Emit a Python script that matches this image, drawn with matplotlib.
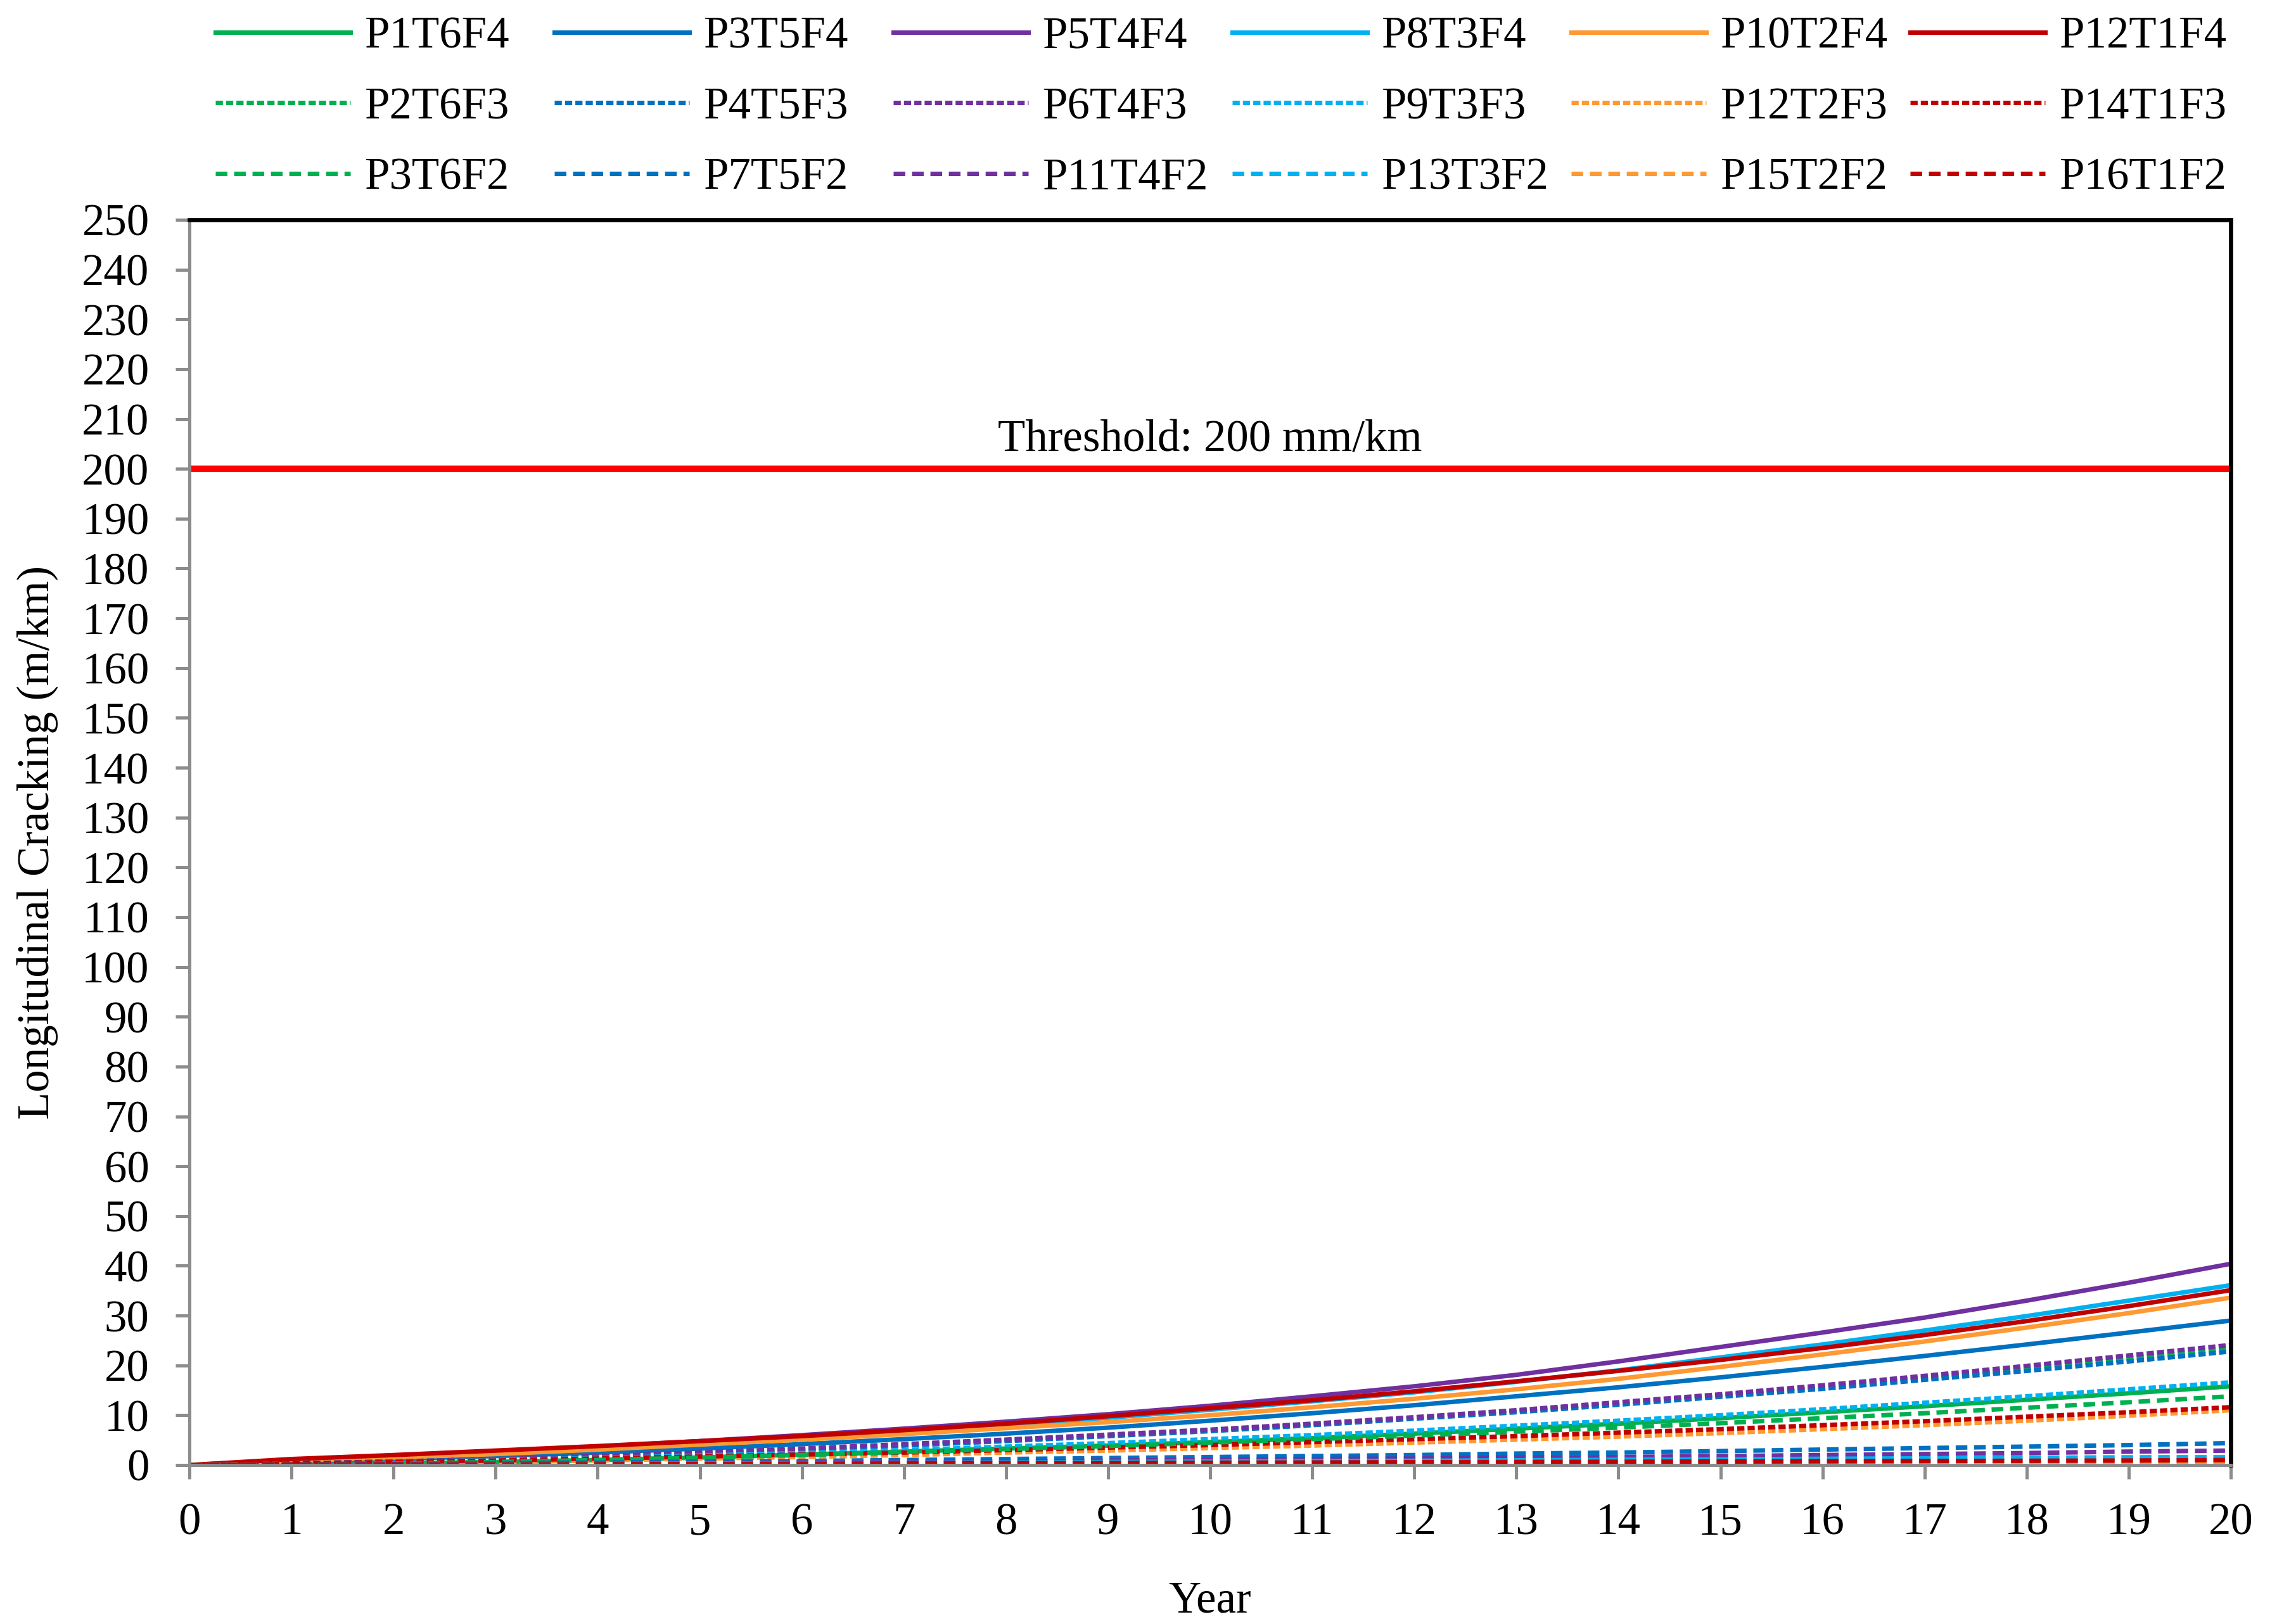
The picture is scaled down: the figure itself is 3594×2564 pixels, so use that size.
import matplotlib
matplotlib.use("Agg")
import matplotlib.pyplot as plt

plt.rcParams["font.family"] = ["Liberation Serif", "DejaVu Serif"]
plt.rcParams["font.size"] = 17

years = list(range(21))

# F4 designs (solid)
p1t6f4 = [0, 0.1, 0.3, 0.6, 1.0, 1.5, 2.1, 2.7, 3.3, 3.9, 4.6, 5.4, 6.3, 7.3, 8.3, 9.4, 10.6, 11.8, 13.1, 14.4, 15.8]
p3t5f4 = [0, 0.6, 1.2, 1.8, 2.5, 3.3, 4.2, 5.2, 6.3, 7.5, 8.9, 10.4, 12.0, 13.8, 15.6, 17.6, 19.7, 21.9, 24.2, 26.6, 29.0]
p5t4f4 = [0, 1.0, 1.8, 2.7, 3.7, 4.8, 6.0, 7.3, 8.7, 10.2, 11.9, 13.8, 15.8, 18.1, 20.8, 23.7, 26.6, 29.6, 33.0, 36.6, 40.4]
p8t3f4 = [0, 0.9, 1.6, 2.4, 3.4, 4.5, 5.6, 6.8, 8.1, 9.5, 11.1, 12.8, 14.6, 16.7, 19.0, 21.6, 24.2, 27.0, 29.9, 33.0, 36.1]
p10t2f4 = [0, 0.8, 1.5, 2.2, 3.1, 4.1, 5.1, 6.2, 7.4, 8.6, 10.0, 11.6, 13.3, 15.2, 17.3, 19.7, 22.2, 24.8, 27.6, 30.5, 33.6]
p12t1f4 = [0, 1.2, 2.0, 2.9, 3.8, 4.8, 5.8, 7.0, 8.3, 9.8, 11.4, 13.0, 14.8, 16.8, 18.9, 21.1, 23.5, 26.1, 28.9, 31.9, 35.1]

# F3 designs (square dot)
p2t6f3 = [0, 0.3, 0.7, 1.2, 1.8, 2.4, 3.2, 4.1, 5.0, 6.0, 7.0, 8.2, 9.5, 10.9, 12.4, 14.0, 15.7, 17.5, 19.4, 21.4, 23.4]
p4t5f3 = [0, 0.3, 0.7, 1.1, 1.7, 2.3, 3.1, 3.9, 4.8, 5.8, 6.8, 8.0, 9.3, 10.6, 12.1, 13.7, 15.3, 17.1, 18.9, 20.8, 22.8]
p6t4f3 = [0, 0.3, 0.7, 1.2, 1.8, 2.5, 3.3, 4.2, 5.1, 6.1, 7.1, 8.3, 9.6, 11.0, 12.6, 14.2, 16.0, 17.9, 19.9, 22.0, 24.1]
p9t3f3 = [0, 0.3, 0.6, 1.0, 1.4, 1.9, 2.4, 3.0, 3.7, 4.4, 5.2, 6.0, 6.9, 7.9, 8.9, 10.0, 11.2, 12.5, 13.8, 15.2, 16.6]
p12t2f3 = [0, 0.2, 0.4, 0.6, 0.9, 1.3, 1.6, 2.0, 2.5, 2.9, 3.4, 3.9, 4.5, 5.1, 5.7, 6.4, 7.2, 8.0, 8.9, 9.9, 11.0]
p14t1f3 = [0, 0.3, 0.6, 0.9, 1.3, 1.7, 2.1, 2.5, 3.0, 3.5, 4.0, 4.6, 5.2, 5.8, 6.5, 7.2, 8.0, 8.8, 9.7, 10.6, 11.6]

# F2 designs (dash)
p3t6f2 = [0, 0.1, 0.3, 0.6, 1.0, 1.5, 2.0, 2.6, 3.2, 3.8, 4.5, 5.2, 5.9, 6.7, 7.5, 8.4, 9.4, 10.4, 11.5, 12.6, 13.8]
p7t5f2 = [0, 0.1, 0.2, 0.4, 0.5, 0.7, 0.8, 1.0, 1.2, 1.4, 1.6, 1.8, 2.0, 2.3, 2.5, 2.8, 3.1, 3.4, 3.7, 4.0, 4.4]
p11t4f2 = [0, 0.1, 0.1, 0.2, 0.3, 0.4, 0.5, 0.6, 0.7, 0.9, 1.0, 1.2, 1.3, 1.5, 1.6, 1.8, 2.0, 2.2, 2.4, 2.7, 2.9]
p13t3f2 = [0, 0.05, 0.1, 0.15, 0.2, 0.3, 0.35, 0.4, 0.5, 0.6, 0.7, 0.8, 0.85, 0.95, 1.05, 1.15, 1.25, 1.35, 1.45, 1.55, 1.6]
p15t2f2 = [0, 0, 0.02, 0.04, 0.06, 0.08, 0.1, 0.12, 0.14, 0.16, 0.18, 0.2, 0.23, 0.26, 0.29, 0.32, 0.35, 0.38, 0.42, 0.46, 0.5]
p16t1f2 = [0, 0.05, 0.1, 0.1, 0.15, 0.2, 0.25, 0.3, 0.35, 0.4, 0.45, 0.5, 0.55, 0.6, 0.65, 0.7, 0.75, 0.8, 0.85, 0.9, 1.0]

threshold = 200

colors = ["#00B050", "#0070C0", "#7030A0", "#00B0F0", "#FF9933", "#C00000"]
labels_f4 = ["P1T6F4", "P3T5F4", "P5T4F4", "P8T3F4", "P10T2F4", "P12T1F4"]
labels_f3 = ["P2T6F3", "P4T5F3", "P6T4F3", "P9T3F3", "P12T2F3", "P14T1F3"]
labels_f2 = ["P3T6F2", "P7T5F2", "P11T4F2", "P13T3F2", "P15T2F2", "P16T1F2"]
data_f4 = [p1t6f4, p3t5f4, p5t4f4, p8t3f4, p10t2f4, p12t1f4]
data_f3 = [p2t6f3, p4t5f3, p6t4f3, p9t3f3, p12t2f3, p14t1f3]
data_f2 = [p3t6f2, p7t5f2, p11t4f2, p13t3f2, p15t2f2, p16t1f2]

W, H = 3595, 2564
fig = plt.figure(figsize=(W / 300, H / 300), dpi=300)
ax = fig.add_axes([299 / W, 1 - 2313 / H, (3521 - 299) / W, (2313 - 347) / H])

gray = "#8c8c8c"
lw = 1.7
groups = [
    (data_f4, labels_f4, "-"),
    (data_f3, labels_f3, (0, (1.6, 0.7))),
    (data_f2, labels_f2, (0, (2.6, 1.5))),
]
handles = {}
for data, labels, ls in groups:
    for vals, lab, c in zip(data, labels, colors):
        (h,) = ax.plot(years, vals, color=c, lw=lw, linestyle=ls, label=lab)
        handles[lab] = h

ax.plot([0, 20], [threshold, threshold], color="#FF0000", lw=2.4)
ax.text(10, 203.5, "Threshold: 200 mm/km", ha="center", va="baseline", fontsize=17)

ax.set_xlim(0, 20)
ax.set_ylim(0, 250)
ax.set_xticks(range(0, 21))
ax.set_yticks(range(0, 251, 10))
ax.tick_params(axis="both", direction="out", length=5.2, width=1.2, color=gray, labelsize=17)
ax.tick_params(axis="y", pad=10)
ax.tick_params(axis="x", pad=9)

for side in ["top", "right"]:
    ax.spines[side].set_color("black")
    ax.spines[side].set_linewidth(1.6)
for side in ["left", "bottom"]:
    ax.spines[side].set_color(gray)
    ax.spines[side].set_linewidth(1.2)

ax.set_xlabel("Year", fontsize=17, labelpad=14)
ax.set_ylabel("Longitudinal Cracking (m/km)", fontsize=17, labelpad=9)

# one small legend per column so the columns sit at even spacing (like Excel)
for i in range(6):
    col = [labels_f4[i], labels_f3[i], labels_f2[i]]
    fig.legend(
        [handles[k] for k in col], col,
        loc="upper left", bbox_to_anchor=((305 + 535 * i) / W, 1 + 10 / H),
        ncol=1, frameon=False, borderpad=0, handlelength=3.0,
        handletextpad=0.32, labelspacing=0.66, fontsize=17,
    )

fig.savefig("out.png", dpi=300)
